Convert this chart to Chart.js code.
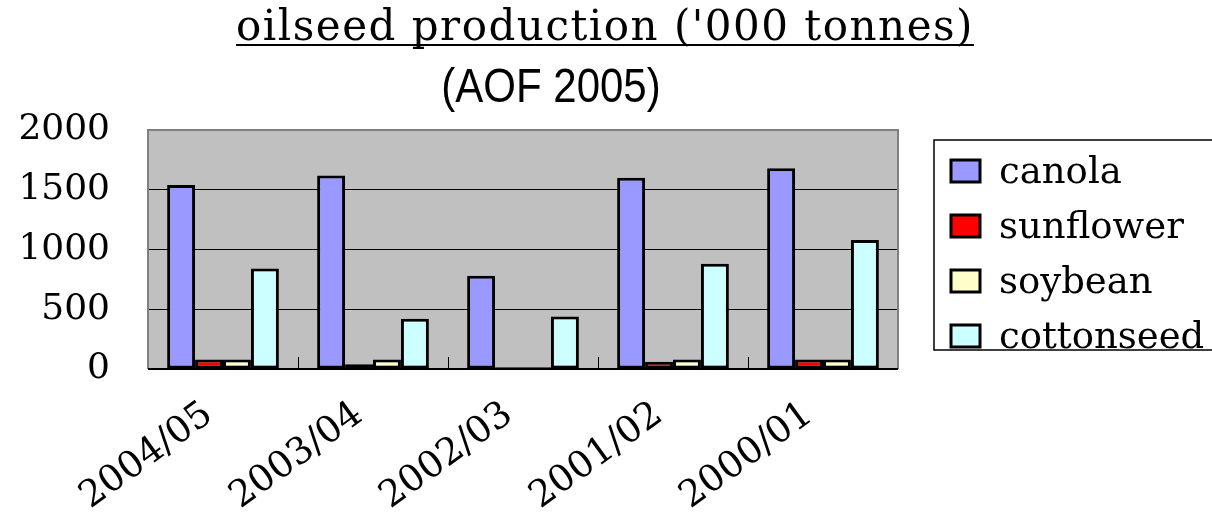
<!DOCTYPE html>
<html>
<head>
<meta charset="utf-8">
<script src="https://cdn.jsdelivr.net/npm/chart.js@4.4.1/dist/chart.umd.min.js"></script>
<style>
  html, body { margin: 0; padding: 0; background: #fff; }
  #wrap { width: 1212px; height: 512px; }
</style>
</head>
<body>
<div id="wrap"><canvas id="chart" width="1212" height="512"></canvas></div>
<script>
const seasons = ['2004/05', '2003/04', '2002/03', '2001/02', '2000/01'];
const canola = [1540, 1620, 780, 1600, 1680];
const sunflower = [80, 40, 15, 60, 80];
const soybean = [80, 80, 15, 80, 80];
const cottonseed = [840, 420, 440, 880, 1080];
const yTicks = [0, 500, 1000, 1500, 2000];

const titleText = "oilseed production ('000 tonnes)";
const subtitleText = '(AOF 2005)';

const serif = 'DejaVu Serif';

// plot background, frame, small category ticks, titles and boxed legend
const chartDecor = {
  id: 'chartDecor',
  beforeDraw(chart) {
    const { ctx, chartArea: a } = chart;
    ctx.save();
    ctx.fillStyle = '#c0c0c0';
    ctx.fillRect(a.left, a.top, a.right - a.left, a.bottom - a.top);
    ctx.restore();
  },
  afterDraw(chart) {
    const { ctx, chartArea: a } = chart;
    const xs = chart.scales.x;
    ctx.save();

    // frame
    ctx.strokeStyle = '#808080';
    ctx.lineWidth = 2;
    ctx.beginPath();
    ctx.moveTo(a.left, a.bottom);
    ctx.lineTo(a.left, a.top);
    ctx.lineTo(a.right, a.top);
    ctx.lineTo(a.right, a.bottom);
    ctx.stroke();
    ctx.strokeStyle = '#000';
    ctx.beginPath();
    ctx.moveTo(a.left, a.bottom);
    ctx.lineTo(a.right, a.bottom);
    ctx.stroke();

    // category boundary ticks, inside the plot
    const half = (xs.getPixelForValue(1) - xs.getPixelForValue(0)) / 2;
    ctx.lineWidth = 1;
    for (let i = 1; i < seasons.length; i++) {
      const x = Math.round(xs.getPixelForValue(i) - half) + 0.5;
      ctx.beginPath();
      ctx.moveTo(x, a.bottom - 12);
      ctx.lineTo(x, a.bottom);
      ctx.stroke();
    }

    // title, underlined
    ctx.fillStyle = '#000';
    ctx.font = '42px "' + serif + '"';
    ctx.letterSpacing = '1.5px';
    ctx.textAlign = 'center';
    ctx.textBaseline = 'alphabetic';
    const tw = ctx.measureText(titleText).width;
    ctx.fillText(titleText, 605, 40);
    ctx.letterSpacing = '0px';
    ctx.fillRect(605 - tw / 2, 44, tw, 2);

    // subtitle
    ctx.save();
    ctx.translate(551, 102);
    ctx.scale(1, 1.15);
    ctx.font = '42px "Liberation Sans"';
    ctx.fillText(subtitleText, 0, 0);
    ctx.restore();

    // legend
    ctx.fillStyle = '#fff';
    ctx.fillRect(934, 140, 290, 210);
    ctx.strokeStyle = '#000';
    ctx.lineWidth = 1.5;
    ctx.strokeRect(934, 140, 290, 210);
    ctx.font = '37px "' + serif + '"';
    ctx.textAlign = 'left';
    ctx.textBaseline = 'middle';
    chart.data.datasets.forEach((ds, i) => {
      const cy = 171 + i * 55;
      ctx.fillStyle = ds.backgroundColor;
      ctx.fillRect(951, cy - 11, 29, 22);
      ctx.lineWidth = 3;
      ctx.strokeRect(951, cy - 11, 29, 22);
      ctx.fillStyle = '#000';
      ctx.fillText(ds.label, 999, cy + 2);
    });

    ctx.restore();
  }
};

const barStyle = {
  borderColor: '#000',
  borderWidth: 3,
  borderSkipped: false,
  categoryPercentage: 0.745,
  barPercentage: 1.0
};

new Chart(document.getElementById('chart'), {
  type: 'bar',
  data: {
    labels: seasons,
    datasets: [
      { label: 'canola', data: canola, backgroundColor: '#9999ff', ...barStyle },
      { label: 'sunflower', data: sunflower, backgroundColor: '#ff0000', ...barStyle },
      { label: 'soybean', data: soybean, backgroundColor: '#ffffcc', ...barStyle },
      { label: 'cottonseed', data: cottonseed, backgroundColor: '#ccffff', ...barStyle }
    ]
  },
  options: {
    responsive: false,
    devicePixelRatio: 1,
    animation: false,
    layout: { padding: { top: 130, right: 314, left: 0, bottom: 0 } },
    plugins: {
      legend: { display: false },
      title: { display: false },
      tooltip: { enabled: false }
    },
    scales: {
      x: {
        afterFit(scale) { scale.height = 143; },
        grid: { display: false },
        border: { display: false },
        ticks: {
          autoSkip: false,
          minRotation: 36,
          maxRotation: 36,
          padding: 16,
          labelOffset: -14,
          color: '#000',
          font: { family: serif, size: 37 }
        }
      },
      y: {
        min: 0,
        max: 2000,
        afterFit(scale) { scale.width = 148; },
        afterBuildTicks(scale) { scale.ticks = yTicks.map(v => ({ value: v })); },
        grid: { color: '#000', lineWidth: 1, drawTicks: false },
        border: { display: false },
        ticks: {
          padding: 38,
          color: '#000',
          font: { family: serif, size: 36 },
          callback: (v) => String(v)
        }
      }
    }
  },
  plugins: [chartDecor]
});
</script>
</body>
</html>
